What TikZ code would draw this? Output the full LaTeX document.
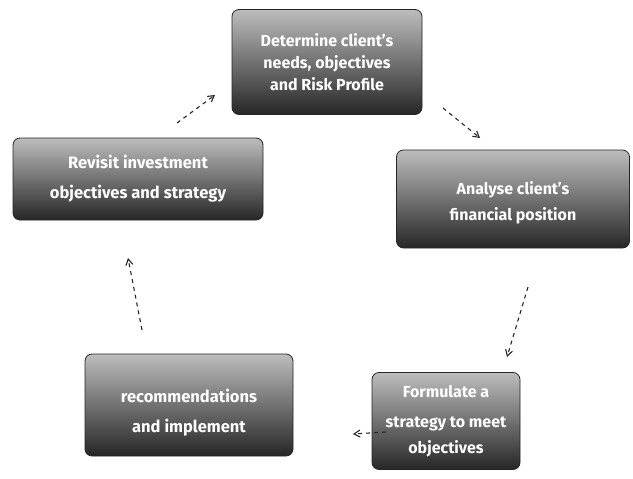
\documentclass[tikz,border=0pt]{standalone}
\usepackage{fontspec}
\setmainfont{Fira Sans}
\usetikzlibrary{arrows.meta}
\definecolor{boxdark}{HTML}{262626}
\definecolor{boxlight}{HTML}{BDBDBD}
\tikzset{
  stepbox/.style={rectangle, rounded corners=7pt, top color=boxlight, bottom color=boxdark,
    draw=boxdark, line width=0.8pt, text=white, align=center,
    font=\bfseries\fontsize{16}{22}\selectfont, inner sep=2pt},
  widebox/.style={stepbox, font=\bfseries\fontsize{16.5}{30}\selectfont},
  flow/.style={draw=black!85, line width=1.1pt, dash pattern=on 4pt off 4pt,
    -{Straight Barb[length=6pt,width=7pt]}}
}
\begin{document}
\begin{tikzpicture}[x=1pt,y=-1pt]
\useasboundingbox (0,0) rectangle (633,479);
\node[stepbox, minimum width=190pt, minimum height=105pt] (det) at (327,62)
  {Determine client's\\needs, objectives\\and Risk Profile};
\node[widebox, minimum width=250pt, minimum height=82pt] (rev) at (138,179)
  {Revisit investment\\objectives and strategy};
\node[stepbox, minimum width=233pt, minimum height=98pt, font=\bfseries\fontsize{16}{26}\selectfont] (ana) at (513,199)
  {\\[-6pt]Analyse client's\\financial position};
\node[widebox, minimum width=208pt, minimum height=102pt] (rec) at (189,405)
  {\\[-2pt]recommendations\\and implement};
\node[widebox, minimum width=148pt, minimum height=97pt, font=\bfseries\fontsize{16}{30}\selectfont] (frm) at (446,421)
  {Formulate a\\strategy to meet\\[-4pt]objectives};
\coordinate (a1s) at (177,123); \coordinate (a1e) at (215,95);
\coordinate (a2s) at (443,108); \coordinate (a2e) at (480,138);
\coordinate (a3s) at (528,287); \coordinate (a3e) at (507,357);
\coordinate (a4s) at (386,432); \coordinate (a4e) at (353,434);
\coordinate (a5s) at (142,330); \coordinate (a5e) at (128,258);
\draw[flow] (a1s) -- (a1e);
\draw[flow] (a2s) -- (a2e);
\draw[flow] (a3s) -- (a3e);
\draw[flow] (a4s) -- (a4e);
\draw[flow] (a5s) -- (a5e);
\end{tikzpicture}
\end{document}
